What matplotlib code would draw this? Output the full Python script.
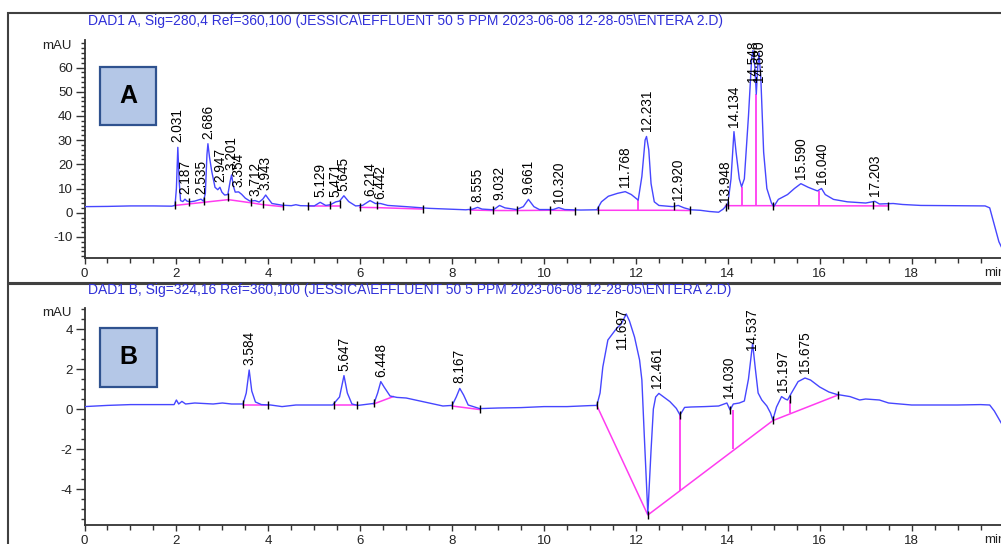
import numpy as np
import matplotlib
matplotlib.use('Agg')
import matplotlib.pyplot as plt
from matplotlib.patches import Rectangle
from matplotlib.ticker import MultipleLocator, FixedLocator
import matplotlib.transforms as mtrans

plt.rcParams['font.family'] = ['Liberation Sans', 'DejaVu Sans']
plt.rcParams['axes.unicode_minus'] = False

# ---------------- data ----------------
title_a = "DAD1 A, Sig=280,4 Ref=360,100 (JESSICA\\EFFLUENT 50 5 PPM 2023-06-08 12-28-05\\ENTERA 2.D)"
title_b = "DAD1 B, Sig=324,16 Ref=360,100 (JESSICA\\EFFLUENT 50 5 PPM 2023-06-08 12-28-05\\ENTERA 2.D)"

ticks_a = [-10, 0, 10, 20, 30, 40, 50, 60]
ticks_b = [-4, -2, 0, 2, 4]
ticks_x = [0, 2, 4, 6, 8, 10, 12, 14, 16, 18]

# signal A trace (min, mAU)
trace_a = np.array([
    (0.0, 2.5), (0.5, 2.6), (1.0, 2.8), (1.5, 2.8), (1.9, 2.7), (1.97, 3.0), (2.0, 10), (2.031, 27),
    (2.06, 13), (2.09, 5.0), (2.14, 4.6), (2.187, 5.6), (2.23, 4.8), (2.3, 4.5), (2.4, 4.8), (2.5, 5.4),
    (2.535, 5.6), (2.59, 4.8), (2.63, 8), (2.665, 24), (2.686, 28.5), (2.72, 23), (2.77, 17), (2.84, 10.5),
    (2.9, 9.5), (2.947, 10.5), (2.99, 8.5), (3.05, 7.3), (3.12, 7.5), (3.17, 13), (3.201, 15.6),
    (3.24, 11), (3.28, 8.5), (3.354, 8.6), (3.42, 7.6), (3.5, 6.0), (3.6, 4.8), (3.712, 5.0),
    (3.8, 4.4), (3.88, 5.6), (3.943, 7.3), (4.0, 5.8), (4.08, 3.8), (4.3, 3.1), (4.5, 2.9), (4.6, 3.3),
    (4.7, 2.9), (5.0, 2.8), (5.129, 4.3), (5.25, 3.0), (5.35, 3.3), (5.471, 4.5), (5.55, 4.8),
    (5.645, 7.0), (5.75, 4.6), (5.9, 2.8), (6.05, 3.0), (6.214, 5.0), (6.33, 3.8), (6.442, 3.8),
    (6.6, 3.0), (7.0, 2.5), (7.5, 1.8), (8.0, 1.4), (8.3, 1.2), (8.45, 1.5), (8.555, 2.2), (8.65, 1.5),
    (8.9, 1.2), (9.032, 3.0), (9.15, 2.0), (9.4, 1.3), (9.55, 2.5), (9.661, 5.5), (9.78, 2.5),
    (9.9, 1.3), (10.2, 1.3), (10.32, 2.1), (10.45, 1.3), (10.8, 1.1), (11.15, 1.2), (11.25, 4.5),
    (11.4, 6.8), (11.6, 8.0), (11.768, 8.7), (11.9, 7.5), (12.05, 5.2), (12.13, 15), (12.2, 30),
    (12.231, 31.5), (12.28, 26), (12.33, 12), (12.4, 4.5), (12.5, 3.0), (12.8, 2.5), (12.92, 3.0),
    (13.05, 2.0), (13.2, 1.2), (13.4, 1.0), (13.6, 0.5), (13.8, 0.2), (13.9, 1.5), (13.948, 2.5),
    (14.0, 3.5), (14.07, 14), (14.134, 33.5), (14.18, 25), (14.25, 14), (14.3, 10.7), (14.36, 14),
    (14.45, 40), (14.52, 64), (14.548, 67), (14.59, 60), (14.62, 49), (14.65, 60), (14.68, 66),
    (14.72, 55), (14.78, 25), (14.85, 10), (14.95, 4), (15.0, 2.5), (15.1, 5.5), (15.3, 7.5),
    (15.45, 10), (15.59, 12), (15.75, 10.5), (15.95, 9.0), (16.04, 10.0), (16.12, 7.5), (16.3, 5.5),
    (16.6, 4.5), (17.0, 4.0), (17.2, 4.7), (17.3, 3.6), (17.6, 3.8), (17.8, 3.4), (18.2, 3.0),
    (18.8, 2.9), (19.3, 2.8), (19.6, 2.8), (19.7, 2.0), (19.8, -5), (19.9, -12), (19.95, -14),
])

peaks_a_rt = [2.031, 2.187, 2.535, 2.686, 2.947, 3.201, 3.354, 3.712, 3.943, 5.129, 5.471, 5.645,
              6.214, 6.442, 8.555, 9.032, 9.661, 10.320, 11.768, 12.231, 12.920, 13.948, 14.134,
              14.548, 14.680, 15.590, 16.040, 17.203]
peaks_a_apex = [27, 5.5, 5.5, 28.5, 10.5, 15.6, 8.6, 5.0, 7.3, 4.3, 4.5, 7.0,
                5.0, 3.8, 2.2, 3.0, 5.5, 2.1, 8.7, 31.5, 3.0, 2.5, 33.5,
                67, 66, 12, 10, 4.7]

base_a_segments = [
    [(1.97, 3.0), (3.13, 5.4), (3.62, 4.1), (3.89, 3.3), (4.31, 2.5)],
    [(4.87, 2.6), (5.55, 2.6)],
    [(5.99, 2.2), (6.36, 2.1), (7.37, 1.5)],
    [(8.39, 1.1), (8.88, 0.9), (9.41, 0.9), (10.12, 1.0), (10.67, 0.9)],
    [(11.17, 1.0), (12.84, 1.0), (13.18, 0.9)],
    [(13.95, 2.8), (14.01, 2.9), (14.99, 2.9), (17.48, 2.8)],
]
drop_a_t = [12.05, 14.30, 14.62, 15.98]
drop_a_lo = [1.0, 2.9, 2.9, 2.9]
drop_a_hi = [5.2, 10.7, 49, 8.8]

marks_a = [(1.97, 3.0), (2.28, 4.3), (2.60, 4.8), (3.13, 6.5), (3.62, 4.3), (3.89, 3.4), (4.31, 2.7),
           (4.87, 2.7), (5.34, 3.2), (5.55, 3.5), (5.99, 2.4), (6.36, 3.0), (7.37, 1.6), (8.39, 1.2),
           (8.88, 1.0), (9.41, 1.0), (10.12, 1.1), (10.67, 0.9), (11.17, 1.1), (12.84, 2.6),
           (13.18, 1.0), (13.95, 2.4), (14.01, 3.2), (14.99, 2.8), (17.15, 3.2), (17.48, 2.9)]

# signal B trace (min, mAU)
trace_b = np.array([
    (0.0, 0.12), (0.5, 0.18), (1.0, 0.22), (1.5, 0.22), (1.95, 0.22), (2.0, 0.45), (2.05, 0.25),
    (2.12, 0.38), (2.2, 0.25), (2.4, 0.3), (2.8, 0.25), (3.0, 0.3), (3.2, 0.25), (3.45, 0.25),
    (3.52, 0.8), (3.584, 1.95), (3.64, 0.9), (3.72, 0.35), (3.85, 0.22), (4.05, 0.2), (4.3, 0.12),
    (4.6, 0.2), (5.0, 0.2), (5.4, 0.2), (5.55, 0.6), (5.647, 1.67), (5.72, 0.8), (5.82, 0.25),
    (5.95, 0.18), (6.3, 0.28), (6.38, 0.8), (6.448, 1.37), (6.52, 1.1), (6.65, 0.65), (6.8, 0.58),
    (7.0, 0.55), (7.2, 0.45), (7.5, 0.3), (7.8, 0.15), (8.0, 0.18), (8.09, 0.6), (8.167, 1.03),
    (8.25, 0.7), (8.35, 0.2), (8.6, 0.02), (9.0, 0.05), (9.5, 0.07), (10.0, 0.12), (10.5, 0.12),
    (11.0, 0.17), (11.15, 0.18), (11.22, 0.8), (11.28, 2.1), (11.39, 3.45), (11.57, 4.0),
    (11.68, 4.25), (11.79, 4.75), (11.86, 4.4), (11.97, 3.6), (12.08, 2.45), (12.13, 1.45),
    (12.18, -1.2), (12.26, -5.25), (12.33, -2.05), (12.38, 0.0), (12.43, 0.6), (12.5, 0.78),
    (12.74, 0.37), (12.88, 0.03), (12.96, -0.3), (13.06, 0.08), (13.2, 0.1), (13.5, 0.12),
    (13.8, 0.15), (13.98, 0.3), (14.05, -0.05), (14.12, 0.25), (14.25, 0.3), (14.36, 0.4),
    (14.45, 1.5), (14.54, 3.28), (14.6, 2.0), (14.66, 0.8), (14.74, 0.45), (14.85, 0.15),
    (14.93, -0.2), (14.98, -0.55), (15.06, 0.1), (15.17, 0.62), (15.25, 0.5), (15.3, 0.45),
    (15.38, 0.78), (15.53, 1.37), (15.68, 1.55), (15.8, 1.45), (16.0, 1.1), (16.2, 0.85),
    (16.37, 0.73), (16.66, 0.62), (16.87, 0.45), (17.0, 0.5), (17.3, 0.45), (17.5, 0.3),
    (18.0, 0.2), (18.5, 0.2), (19.0, 0.2), (19.5, 0.22), (19.7, 0.2), (19.8, -0.1), (19.9, -0.5),
    (19.95, -0.7),
])

peaks_b_rt = [3.584, 5.647, 6.448, 8.167, 11.697, 12.461, 14.030, 14.537, 15.197, 15.675]
peaks_b_apex = [1.95, 1.67, 1.37, 1.03, 4.8, 0.78, 0.3, 3.28, 0.62, 1.55]

base_b_segments = [
    [(3.45, 0.2), (4.0, 0.2)],
    [(5.42, 0.2), (5.93, 0.2)],
    [(6.29, 0.25), (6.72, 0.62)],
    [(8.0, 0.15), (8.61, -0.03)],
    [(11.15, 0.17), (12.26, -5.3), (14.98, -0.58), (16.4, 0.7)],
]
drop_b_t = [12.95, 14.12, 15.35]
drop_b_lo = [-4.1, -2.0, -0.2]
drop_b_hi = [-0.3, -0.05, 0.45]

marks_b = [(3.45, 0.25), (4.0, 0.2), (5.42, 0.2), (5.93, 0.2), (6.29, 0.28), (8.0, 0.18),
           (8.61, 0.02), (11.15, 0.18), (12.26, -5.3), (12.96, -0.3), (14.05, -0.05),
           (14.98, -0.55), (15.35, 0.5), (16.4, 0.7)]

# ---------------- layout ----------------
W, H = 1001, 544
fig = plt.figure(figsize=(W / 100, H / 100), dpi=100)


def fx(px):
    return px / W


def fy(py):
    return 1 - py / H


TRACE = '#4646ff'
MAGENTA = '#ff3cf0'
AXC = '#333333'
TITLEC = '#3030d8'

# panel frames
fig.add_artist(Rectangle((fx(8), fy(282.5)), fx(1010 - 8), (282.5 - 13) / H, fill=False,
                         ec='#404040', lw=1.5, transform=fig.transFigure))
fig.add_artist(Rectangle((fx(8), fy(600)), fx(1010 - 8), (600 - 283.5) / H, fill=False,
                         ec='#404040', lw=1.5, transform=fig.transFigure))

ax_a = fig.add_axes([fx(84.5), fy(258), fx(1001 - 84.5), (258 - 40) / H])
ax_b = fig.add_axes([fx(84.5), fy(525), fx(1001 - 84.5), (525 - 308) / H])

xmax = (1001 - 84.5) / 45.95
ax_a.set_xlim(0, xmax)
ax_b.set_xlim(0, xmax)
ax_a.set_ylim(-(258 - 212.7) / 2.42, (212.7 - 40) / 2.42)
ax_b.set_ylim(-(525 - 409) / 20.0, (409 - 308) / 20.0)


def style(ax, yticks, ymin):
    for s in ['top', 'right']:
        ax.spines[s].set_visible(False)
    for s in ['left', 'bottom']:
        ax.spines[s].set_color(AXC)
        ax.spines[s].set_linewidth(1.3)
    ax.patch.set_alpha(0)
    ax.xaxis.set_major_locator(FixedLocator(ticks_x))
    ax.xaxis.set_minor_locator(MultipleLocator(0.5))
    ax.yaxis.set_major_locator(FixedLocator(yticks))
    ax.yaxis.set_minor_locator(MultipleLocator(ymin))
    ax.tick_params(axis='both', which='both', direction='out', color=AXC, width=1.0,
                   labelsize=9.5, labelcolor='#222222')
    ax.tick_params(axis='y', which='major', length=6.5, pad=2)
    ax.tick_params(axis='y', which='minor', length=3.2)
    ax.tick_params(axis='x', which='major', length=4.5, pad=2.5)
    ax.tick_params(axis='x', which='minor', length=3.5)


style(ax_a, ticks_a, 2)
style(ax_b, ticks_b, 0.5)


def draw_panel(ax, trace, segs, dt, dlo, dhi, marks):
    ax.plot(trace[:, 0], trace[:, 1], color=TRACE, lw=1.0, zorder=3)
    for seg in segs:
        s = np.array(seg)
        ax.plot(s[:, 0], s[:, 1], color=MAGENTA, lw=1.1, zorder=2)
    ax.vlines(dt, dlo, dhi, color=MAGENTA, lw=1.3, zorder=2)
    m = np.array(marks)
    ax.plot(m[:, 0], m[:, 1], ls='none', marker='|', ms=5.5, mew=1.0, color='black', zorder=4)


draw_panel(ax_a, trace_a, base_a_segments, drop_a_t, drop_a_lo, drop_a_hi, marks_a)
draw_panel(ax_b, trace_b, base_b_segments, drop_b_t, drop_b_lo, drop_b_hi, marks_b)

# titles and axis words
fig.text(fx(88), fy(21), title_a, color=TITLEC, fontsize=10, ha='left', va='center')
fig.text(fx(88), fy(290), title_b, color=TITLEC, fontsize=10, ha='left', va='center')
fig.text(fx(72), fy(46), 'mAU', fontsize=9.5, ha='right', va='center', color='#222222')
fig.text(fx(72), fy(313), 'mAU', fontsize=9.5, ha='right', va='center', color='#222222')
fig.text(fx(984), fy(273), 'min', fontsize=9.5, ha='left', va='center', color='#222222')
fig.text(fx(984), fy(540), 'min', fontsize=9.5, ha='left', va='center', color='#222222')

# letter boxes
for (x0, y0, x1, y1, letter) in [(100, 67, 156, 125, 'A'), (100, 328, 157, 387, 'B')]:
    fig.add_artist(Rectangle((fx(x0), fy(y1)), fx(x1 - x0), (y1 - y0) / H, fc='#b4c7e7',
                             ec='#2f528f', lw=1.6, transform=fig.transFigure, zorder=5))
    fig.text(fx((x0 + x1) / 2), fy((y0 + y1) / 2), letter, fontsize=18, fontweight='bold',
             ha='center', va='center', zorder=6)

# peak labels (clamped to top of plot area)
fig.canvas.draw()
renderer = fig.canvas.get_renderer()


def add_labels(ax, rts, apexes):
    top_px = ax.transAxes.transform((0, 1))[1]
    for rt, ap in zip(rts, apexes):
        xd, yd = ax.transData.transform((rt, ap))
        t = fig.text(0, 0, f"{rt:.3f}", rotation=90, fontsize=9.8, ha='center', va='bottom',
                     color='black', transform=mtrans.IdentityTransform())
        h = t.get_window_extent(renderer=renderer).height
        y0 = min(yd + 5, top_px - h)
        t.set_position((xd, y0))


add_labels(ax_a, peaks_a_rt, peaks_a_apex)
add_labels(ax_b, peaks_b_rt, peaks_b_apex)

fig.savefig('out.png', dpi=100)
